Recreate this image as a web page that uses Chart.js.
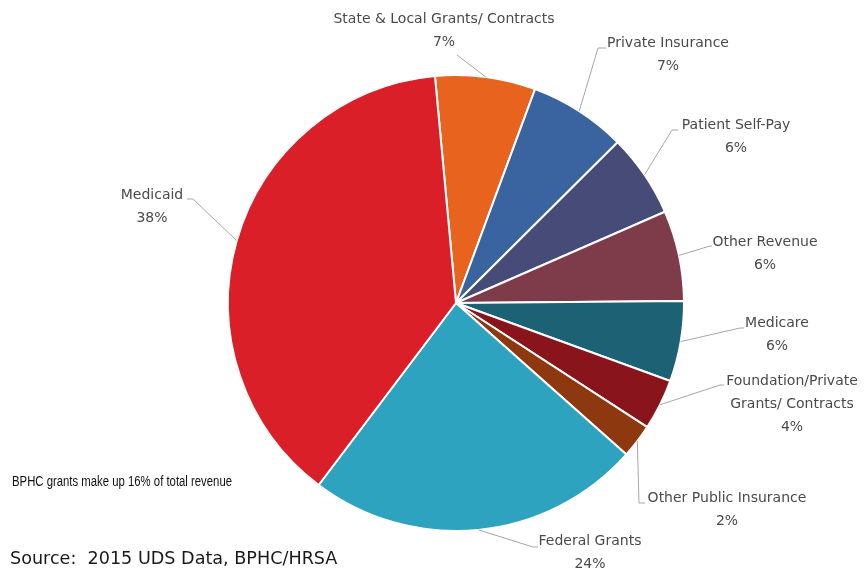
<!DOCTYPE html>
<html>
<head>
<meta charset="utf-8">
<script src="https://cdn.jsdelivr.net/npm/chart.js@4"></script>
<style>
  html, body { margin: 0; padding: 0; background: #ffffff; }
  #wrap { position: relative; width: 866px; height: 571px; }
</style>
</head>
<body>
<div id="wrap"><canvas id="c" width="866" height="571"></canvas></div>
<script>
// ---- data ----
const categories = [
  'State & Local Grants/ Contracts',
  'Private Insurance',
  'Patient Self-Pay',
  'Other Revenue',
  'Medicare',
  'Foundation/Private\nGrants/ Contracts',
  'Other Public Insurance',
  'Federal Grants',
  'Medicaid'
];
const shares = [7.1, 6.9, 5.9, 6.4, 5.7, 3.6, 2.4, 23.7, 38.2];
const colors = ['#E8641E', '#3A64A0', '#474B78', '#7E3B4A', '#1D6174', '#8A141C', '#8E3810', '#2EA3BF', '#DA1F29'];
const note = 'BPHC grants make up 16% of total revenue';
const source = 'Source:  2015 UDS Data, BPHC/HRSA';

// ---- label layout (text block centre x, first-line centre y, elbow point, end of horizontal stub) ----
const labelLayout = [
  { tx: 444, ty: 19,  ex: 457, ey: 55,  hx: 457 },
  { tx: 668, ty: 43,  ex: 598, ey: 48,  hx: 606 },
  { tx: 736, ty: 125, ex: 672, ey: 130, hx: 678 },
  { tx: 765, ty: 242, ex: 710, ey: 246, hx: 712 },
  { tx: 777, ty: 323, ex: 740, ey: 328, hx: 744 },
  { tx: 792, ty: 381, ex: 720, ey: 385, hx: 724 },
  { tx: 727, ty: 498, ex: 639, ey: 503, hx: 645 },
  { tx: 590, ty: 541, ex: 533, ey: 547, hx: 538 },
  { tx: 152, ty: 195, ex: 193, ey: 199, hx: 187 }
];

const labelFont = '14px "DejaVu Sans", Verdana, sans-serif';
const lineH = 23;

const outsideLabels = {
  id: 'outsideLabels',
  afterDraw(chart) {
    const ctx = chart.ctx;
    const meta = chart.getDatasetMeta(0);
    const data = chart.data.datasets[0].data;
    const total = data.reduce((a, b) => a + b, 0);
    ctx.save();
    meta.data.forEach((arc, i) => {
      const p = arc.getProps(['x', 'y', 'startAngle', 'endAngle', 'outerRadius'], true);
      const mid = (p.startAngle + p.endAngle) / 2;
      const sx = p.x + Math.cos(mid) * p.outerRadius;
      const sy = p.y + Math.sin(mid) * p.outerRadius;
      const L = labelLayout[i];
      ctx.strokeStyle = '#a6a6a6';
      ctx.lineWidth = 1;
      ctx.beginPath();
      ctx.moveTo(sx, sy);
      ctx.lineTo(L.ex, L.ey);
      ctx.lineTo(L.hx, L.ey);
      ctx.stroke();
      const lines = chart.data.labels[i].split('\n');
      lines.push(Math.round(data[i] / total * 100) + '%');
      ctx.font = labelFont;
      ctx.fillStyle = '#4a4a4a';
      ctx.textAlign = 'center';
      ctx.textBaseline = 'middle';
      lines.forEach((t, k) => ctx.fillText(t, L.tx, L.ty + k * lineH));
    });
    // annotation (condensed to the reference width) and source
    ctx.textAlign = 'left';
    ctx.textBaseline = 'alphabetic';
    ctx.fillStyle = '#111111';
    ctx.font = '14px "Liberation Sans Narrow", "Liberation Sans", sans-serif';
    const w = ctx.measureText(note).width;
    ctx.save();
    ctx.translate(12, 486);
    ctx.scale(Math.min(1, 220 / w), 1);
    ctx.fillText(note, 0, 0);
    ctx.restore();
    ctx.fillStyle = '#1a1a1a';
    ctx.font = '17.6px "DejaVu Sans", Verdana, sans-serif';
    ctx.fillText(source, 10, 564);
    ctx.restore();
  }
};

new Chart(document.getElementById('c'), {
  type: 'pie',
  data: {
    labels: categories,
    datasets: [{
      data: shares,
      backgroundColor: colors,
      borderColor: '#ffffff',
      borderWidth: 2
    }]
  },
  options: {
    responsive: false,
    animation: false,
    rotation: -5.3,
    layout: { padding: { left: 227, right: 181, top: 74, bottom: 39 } },
    plugins: { legend: { display: false }, tooltip: { enabled: false } }
  },
  plugins: [outsideLabels]
});
</script>
</body>
</html>
